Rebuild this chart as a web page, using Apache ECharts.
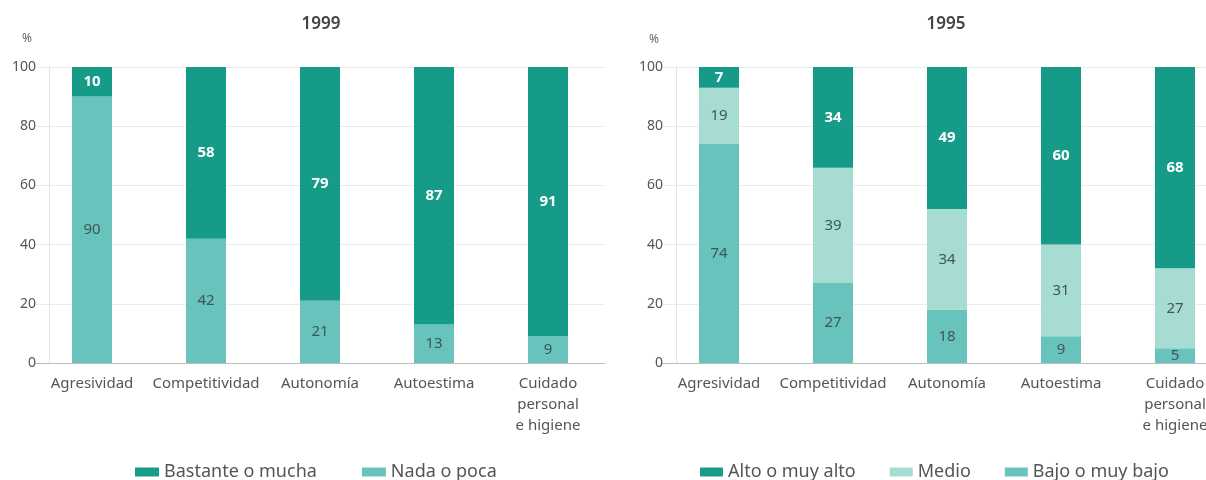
<!DOCTYPE html>
<html><head><meta charset="utf-8">
<script src="https://cdn.jsdelivr.net/npm/echarts@6/dist/echarts.min.js"></script>
<style>html,body{margin:0;padding:0;background:#fff;overflow:hidden}#c{width:1240px;height:480px}</style>
</head><body><div id="c"></div>
<script>
const categories = ['Agresividad','Competitividad','Autonomía','Autoestima','Cuidado\npersonal\ne higiene'];
const yTicks = [0,20,40,60,80,100];
const bastante1999 = [10,58,79,87,91];
const nada1999 = [90,42,21,13,9];
const alto1995 = [7,34,49,60,68];
const medio1995 = [19,39,34,31,27];
const bajo1995 = [74,27,18,9,5];

const DARK='#169b88', MID='#67c3bb', LIGHT='#a6dcd2';
const FONT="'Noto Sans', sans-serif";
const chart = echarts.init(document.getElementById('c'));
function xAx(i){return {type:'category',gridIndex:i,data:categories,
  axisLine:{lineStyle:{color:'#bdbdbd'}},axisTick:{show:false},
  axisLabel:{color:'#555',fontFamily:FONT,fontSize:15,margin:10,lineHeight:21,interval:0}};}
function yAx(i){return {type:'value',gridIndex:i,min:0,max:100,interval:20,offset:-14,
  axisLine:{show:true,lineStyle:{color:'#e2e2e2'}},axisTick:{show:false},
  splitLine:{lineStyle:{color:'#ececec'}},
  axisLabel:{color:'#555',fontFamily:FONT,fontSize:14,margin:13,
    formatter:v=>yTicks.includes(v)?String(v):''}};}
const darkLbl={show:true,color:'#fff',fontWeight:'bold',fontFamily:FONT,fontSize:15};
const lightLbl={show:true,color:'#3f5753',fontFamily:FONT,fontSize:15};
const legText={fontFamily:FONT,fontSize:18,color:'#555'};
chart.setOption({
  animation:false,
  title:[
    {text:'1999',left:321,top:16,padding:0,textAlign:'center',textStyle:{fontFamily:FONT,fontSize:17,fontWeight:600,color:'#444'}},
    {text:'1995',left:946,top:16,padding:0,textAlign:'center',textStyle:{fontFamily:FONT,fontSize:17,fontWeight:600,color:'#444'}},
    {text:'%',left:22,top:33,padding:0,textStyle:{fontFamily:FONT,fontSize:12,fontWeight:'normal',color:'#666'}},
    {text:'%',left:649,top:34,padding:0,textStyle:{fontFamily:FONT,fontSize:12,fontWeight:'normal',color:'#666'}}
  ],
  legend:[
    {left:135,top:463,padding:0,itemWidth:24,itemHeight:9,itemGap:45,icon:'rect',
     textStyle:legText,data:['Bastante o mucha','Nada o poca']},
    {left:700,top:463,padding:0,itemWidth:23,itemHeight:9,itemGap:34,icon:'rect',
     textStyle:legText,data:['Alto o muy alto','Medio','Bajo o muy bajo']}
  ],
  grid:[
    {left:35,top:67,width:570,height:296},
    {left:662,top:67,width:570,height:296}
  ],
  xAxis:[xAx(0),xAx(1)],
  yAxis:[yAx(0),yAx(1)],
  series:[
    {name:'Nada o poca',type:'bar',stack:'a',xAxisIndex:0,yAxisIndex:0,barWidth:40,data:nada1999,itemStyle:{color:MID},label:lightLbl},
    {name:'Bastante o mucha',type:'bar',stack:'a',xAxisIndex:0,yAxisIndex:0,barWidth:40,data:bastante1999,itemStyle:{color:DARK},label:darkLbl},
    {name:'Bajo o muy bajo',type:'bar',stack:'b',xAxisIndex:1,yAxisIndex:1,barWidth:40,data:bajo1995,itemStyle:{color:MID},label:lightLbl},
    {name:'Medio',type:'bar',stack:'b',xAxisIndex:1,yAxisIndex:1,barWidth:40,data:medio1995,itemStyle:{color:LIGHT},label:lightLbl},
    {name:'Alto o muy alto',type:'bar',stack:'b',xAxisIndex:1,yAxisIndex:1,barWidth:40,data:alto1995,itemStyle:{color:DARK},label:darkLbl}
  ]
});
</script></body></html>
